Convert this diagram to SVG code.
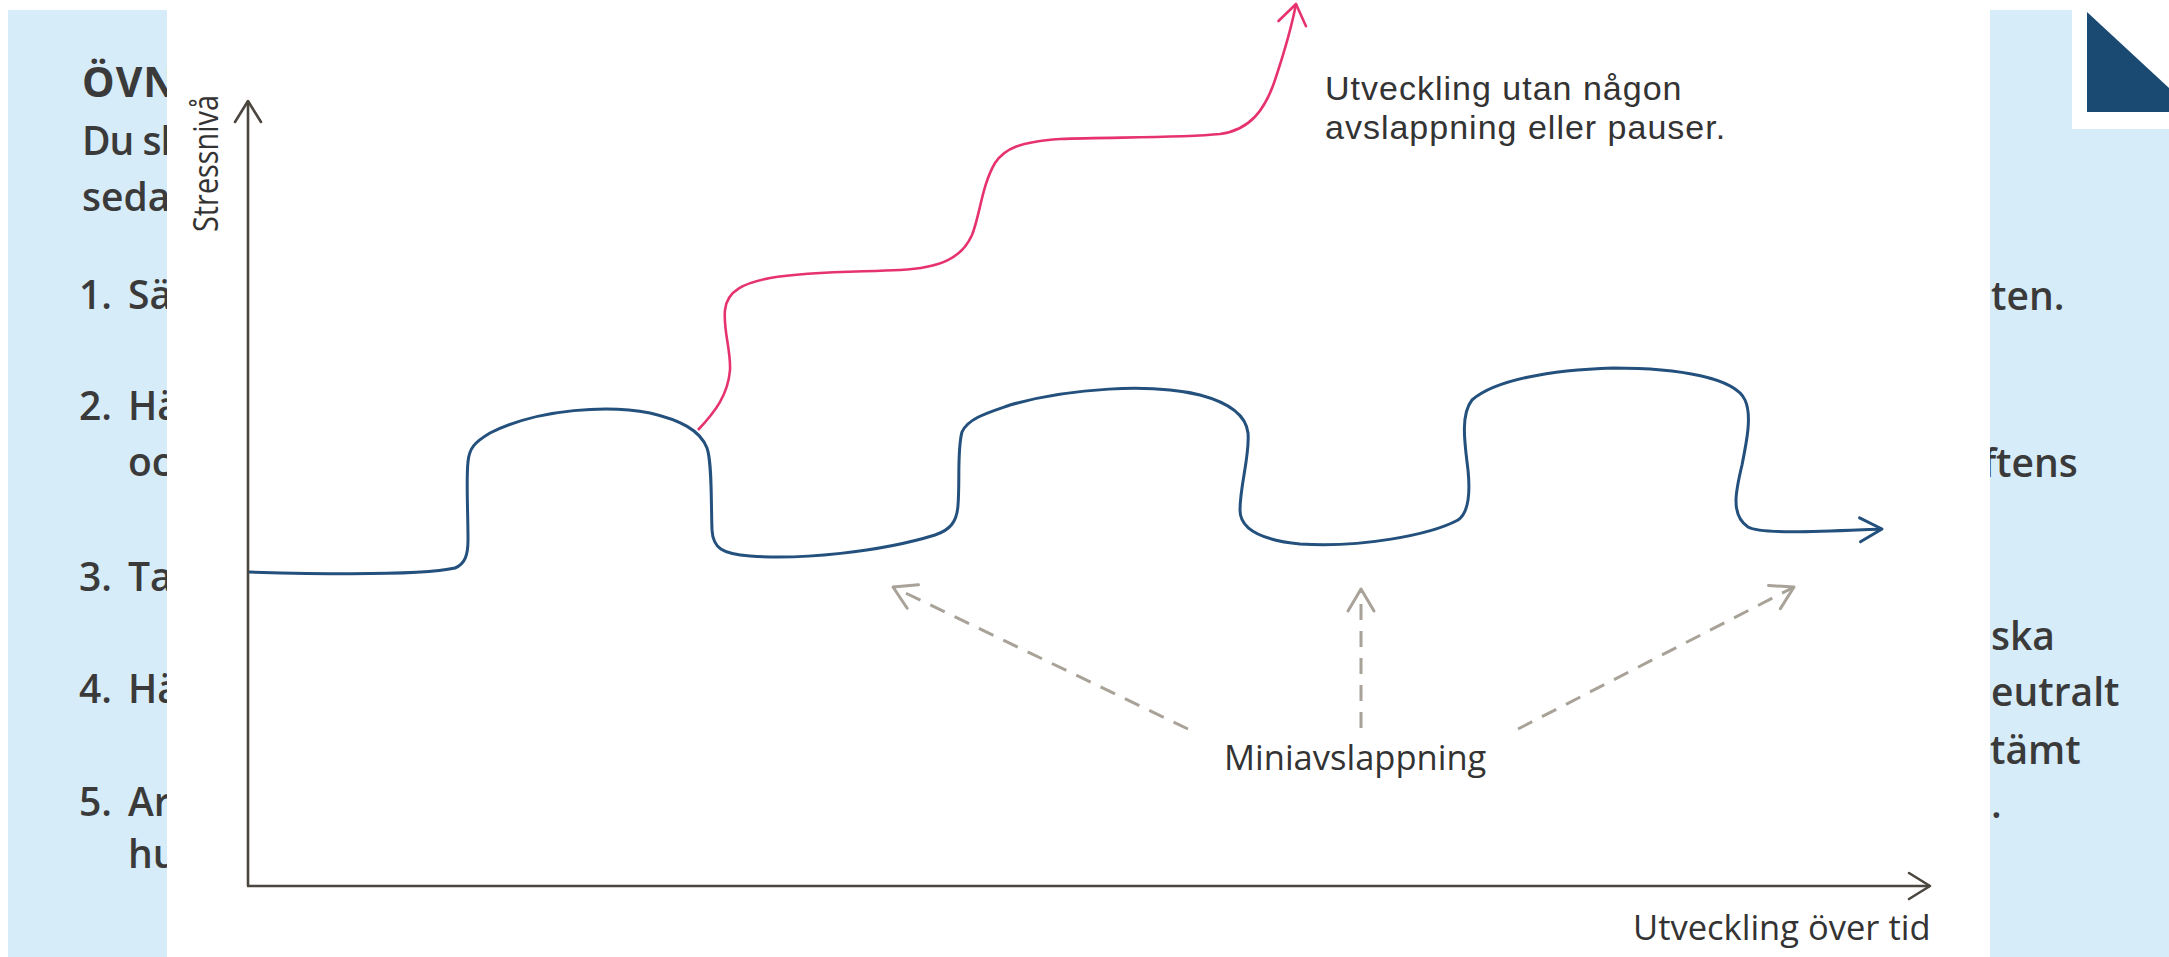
<svg xmlns="http://www.w3.org/2000/svg" width="2169" height="957" viewBox="0 0 2169 957">
<style>
.margin{font-family:"Open Sans","Noto Sans","Liberation Sans",sans-serif;font-size:39px;font-weight:600;fill:#3a3a3a}
.head{font-weight:700;font-size:41px;letter-spacing:1px}
.label{font-family:"Open Sans","Noto Sans","Liberation Sans",sans-serif;font-size:34.5px;fill:#333333}
.note{font-family:"Liberation Sans",Arial,sans-serif;font-size:34px;letter-spacing:1px;fill:#333333}
.axis{fill:none;stroke:#4b463f;stroke-width:2.6}
.blue{fill:none;stroke:#23507c;stroke-width:3}
.pink{fill:none;stroke:#e6336e;stroke-width:2.6}
.dash{fill:none;stroke:#a8a298;stroke-width:3;stroke-dasharray:16 11}
</style>
<defs>
<marker id="ah-axis" markerUnits="userSpaceOnUse" orient="auto" refX="0" refY="0" markerWidth="50" markerHeight="50" viewBox="-30 -25 40 50" overflow="visible">
<path d="M-21,-13 L0,0 L-21,13" fill="none" stroke="#4b463f" stroke-width="2.6" stroke-linecap="round" stroke-linejoin="round"/>
</marker>
<marker id="ah-blue" markerUnits="userSpaceOnUse" orient="auto" refX="0" refY="0" markerWidth="50" markerHeight="50" viewBox="-30 -25 40 50" overflow="visible">
<path d="M-22,-12 L0,0 L-22,12" fill="none" stroke="#23507c" stroke-width="3" stroke-linecap="round" stroke-linejoin="round"/>
</marker>
<marker id="ah-pink" markerUnits="userSpaceOnUse" orient="auto" refX="0" refY="0" markerWidth="50" markerHeight="50" viewBox="-30 -25 40 50" overflow="visible">
<path d="M-20,-14 L0,0 L-20,14" fill="none" stroke="#e6336e" stroke-width="2.6" stroke-linecap="round" stroke-linejoin="round"/>
</marker>
<marker id="ah-gray" markerUnits="userSpaceOnUse" orient="auto" refX="0" refY="0" markerWidth="50" markerHeight="50" viewBox="-30 -25 40 50" overflow="visible">
<path d="M-22,-13 L0,0 L-22,13" fill="none" stroke="#a8a298" stroke-width="3" stroke-linecap="round" stroke-linejoin="round"/>
</marker>
</defs>

<rect x="0" y="0" width="2169" height="957" fill="#ffffff"/>
<rect x="8" y="10" width="2161" height="947" fill="#d6ecf8"/>

<g id="margin-left">
<text class="margin head" x="82" y="97">ÖVN</text>
<text class="margin" x="82" y="155" letter-spacing="-1">Du sl</text>
<text class="margin" x="82" y="211">seda</text>
<text class="margin" x="79" y="309">1. <tspan x="128">Sä</tspan></text>
<text class="margin" x="79" y="420">2. <tspan x="128">Hä</tspan></text>
<text class="margin" x="128" y="476">oc</text>
<text class="margin" x="79" y="591">3. <tspan x="128">Ta</tspan></text>
<text class="margin" x="79" y="703">4. <tspan x="128">Hä</tspan></text>
<text class="margin" x="79" y="816">5. <tspan x="128">Ar</tspan></text>
<text class="margin" x="128" y="868">hu</text>
</g>

<g id="margin-right">
<text class="margin" x="1991" y="310">ten.</text>
<text class="margin" x="1982" y="477">ftens</text>
<text class="margin" x="1991" y="650">ska</text>
<text class="margin" x="1991" y="706">eutralt</text>
<text class="margin" x="1990" y="764">tämt</text>
<text class="margin" x="1991" y="818">.</text>
</g>

<rect id="panel" x="167" y="0" width="1823" height="957" fill="#ffffff"/>
<g id="corner-mark">
<rect x="2072" y="0" width="97" height="129" fill="#ffffff"/>
<polygon points="2087,12 2169,88 2169,112 2087,112" fill="#1a4a72"/>
</g>

<g id="axes">
<line class="axis" x1="248" y1="886" x2="248" y2="101" marker-end="url(#ah-axis)"/>
<line class="axis" x1="247" y1="886" x2="1930" y2="886" marker-end="url(#ah-axis)"/>
</g>

<g id="connectors">
<path id="curve-blue" class="blue" marker-end="url(#ah-blue)" d="M249,572 C320,574 420,576 455,568 C465,564 468,555 468,540 C468,510 466,480 468,462 C469,448 475,442 490,433 C540,408 610,405 650,413 C680,420 700,430 707,448 C712,462 711,500 712,530 C713,548 722,554 750,556 C800,560 880,552 935,535 C950,530 957,522 958,505 C960,480 957,450 962,432 C968,418 990,412 1010,405 C1070,388 1150,383 1200,395 C1230,403 1246,415 1248,433 C1250,455 1240,485 1240,510 C1240,528 1260,540 1300,544 C1360,548 1430,535 1458,520 C1470,512 1470,490 1468,470 C1465,445 1460,415 1472,400 C1495,380 1550,370 1613,368 C1680,368 1735,378 1745,400 C1752,415 1747,440 1742,465 C1736,490 1730,515 1748,527 C1762,535 1830,531 1882,529"/>
<path id="curve-pink" class="pink" marker-end="url(#ah-pink)" d="M698,430 C715,412 728,395 730,370 C731,350 723,330 725,310 C727,290 745,283 770,278 C810,271 860,272 900,270 C940,268 962,258 972,235 C980,215 982,185 995,163 C1005,148 1020,142 1060,139 C1110,137 1180,138 1220,134 C1250,130 1265,110 1275,80 C1285,50 1292,25 1296,4"/>
<line id="dash-left" class="dash" x1="1188" y1="729" x2="893" y2="587" marker-end="url(#ah-gray)"/>
<line id="dash-mid" class="dash" x1="1361" y1="728" x2="1361" y2="589" marker-end="url(#ah-gray)"/>
<line id="dash-right" class="dash" x1="1518" y1="729" x2="1794" y2="587" marker-end="url(#ah-gray)"/>
</g>

<g id="label-y">
<text class="label" transform="translate(218,232) rotate(-90)" font-size="35" textLength="137" lengthAdjust="spacingAndGlyphs">Stressnivå</text>
</g>
<g id="label-x">
<text class="label" x="1633" y="940">Utveckling över tid</text>
</g>
<g id="label-pink">
<text class="note" x="1325" y="100">Utveckling utan någon<tspan x="1325" dy="38.5">avslappning eller pauser.</tspan></text>
</g>
<g id="label-mini">
<text class="label" x="1224" y="770">Miniavslappning</text>
</g>
</svg>
